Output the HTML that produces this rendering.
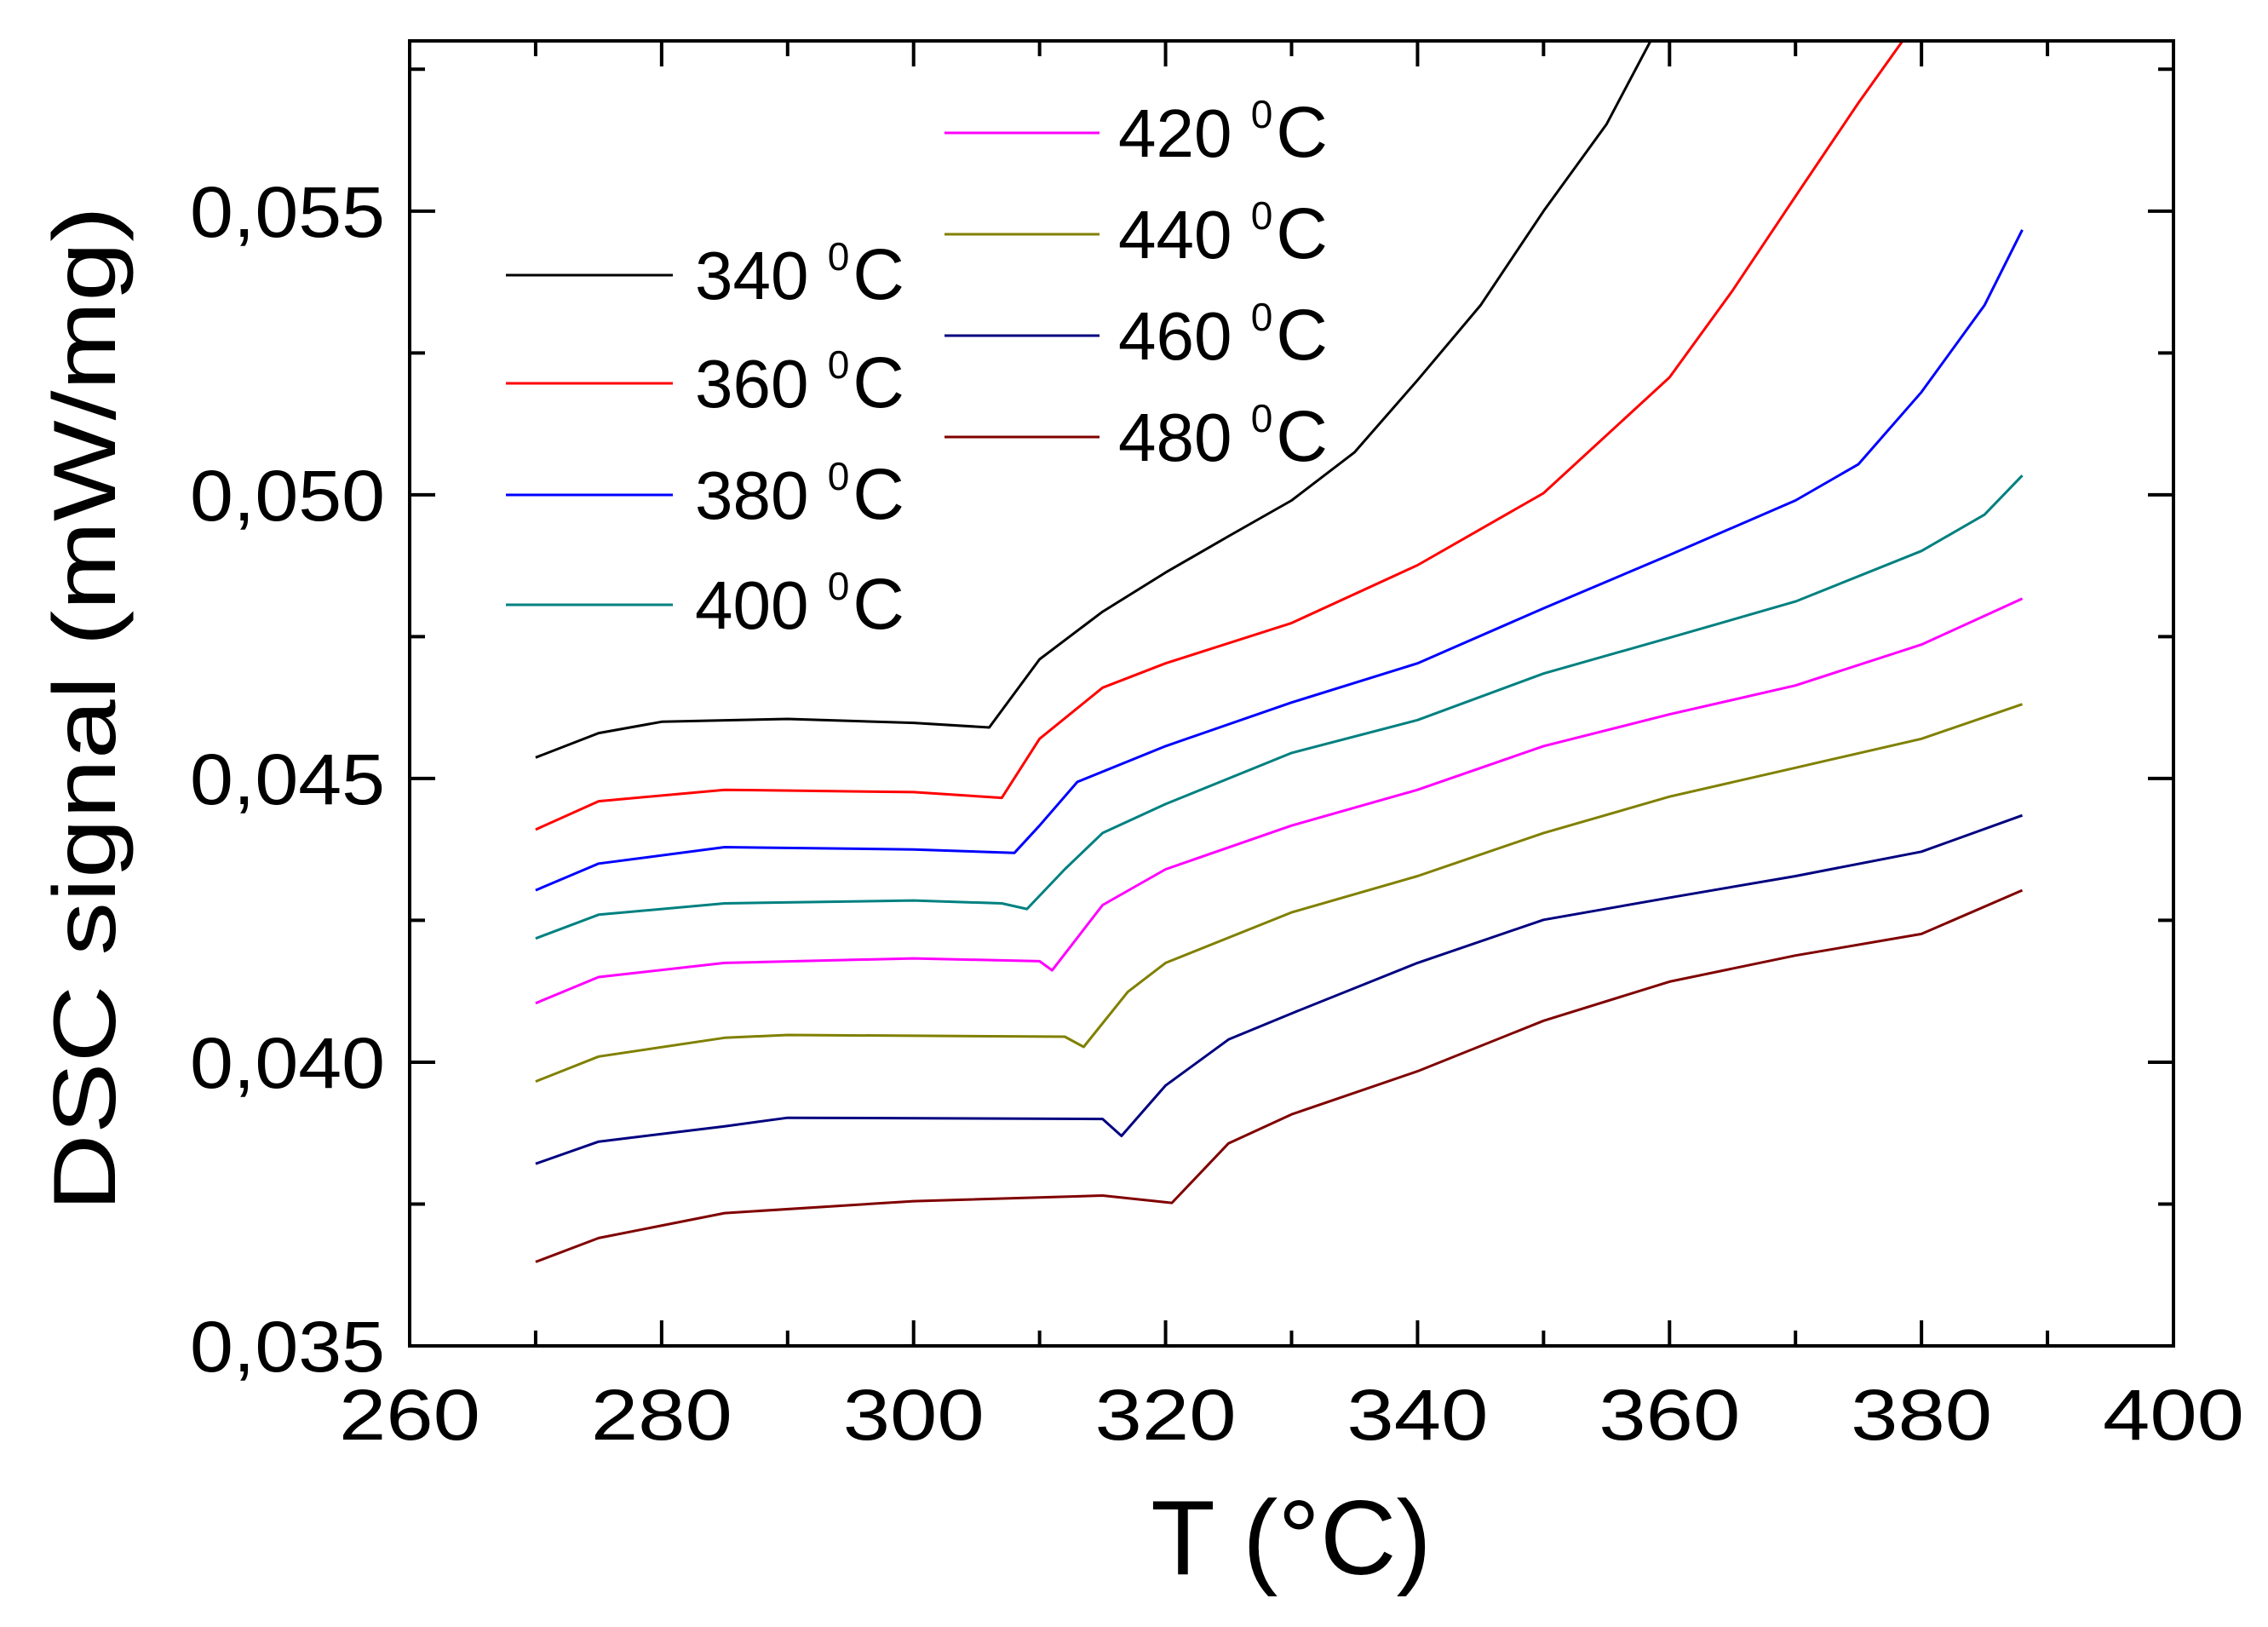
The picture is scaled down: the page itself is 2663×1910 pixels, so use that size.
<!DOCTYPE html>
<html><head><meta charset="utf-8"><style>
html,body{margin:0;padding:0;background:#fff}
svg{display:block}
text{font-family:"Liberation Sans",Arial,sans-serif;fill:#000}
</style></head><body>
<svg id="chart" width="2663" height="1910" viewBox="0 0 2663 1910" xmlns="http://www.w3.org/2000/svg">
<g id="grid"></g>
<g id="series"></g>
<g id="axes"></g>
<g id="legend"></g>
</svg>
<script>
const xTicks=[260,280,300,320,340,360,380,400];
const yTicks=[0.035,0.040,0.045,0.050,0.055];
const yTickLabels=["0,035","0,040","0,045","0,050","0,055"];
const seriesNames=["340 °C","360 °C","380 °C","400 °C","420 °C","440 °C","460 °C","480 °C"];
const seriesColors=["#000000","#ff0000","#0000ff","#008080","#ff00ff","#808000","#000080","#800000"];
const t340=[270,275,280,290,300,306,310,315,320,325,330,335,340,345,350,355,358.5];
const v340=[0.04537,0.0458,0.0460,0.04605,0.04598,0.0459,0.0471,0.04794,0.04863,0.04927,0.0499,0.05075,0.05202,0.05334,0.055,0.05653,0.058];
const t360=[270,275,285,300,307,310,315,320,330,340,350,360,365,370,375,378.5];
const v360=[0.0441,0.0446,0.0448,0.04476,0.04466,0.0457,0.0466,0.04703,0.04774,0.04876,0.05003,0.05207,0.0536,0.05526,0.05691,0.058];
const t380=[270,275,285,300,308,310,313,320,330,340,350,360,370,375,380,385,388];
const v380=[0.04303,0.0435,0.04379,0.04375,0.04369,0.04417,0.04494,0.04557,0.04634,0.04703,0.048,0.04894,0.0499,0.05054,0.05181,0.05334,0.05467];
const t400=[270,275,285,300,307,309,312,315,320,330,340,350,360,370,380,385,388];
const v400=[0.04218,0.0426,0.0428,0.04285,0.0428,0.0427,0.0434,0.04404,0.04455,0.04545,0.04603,0.04685,0.04748,0.04812,0.04901,0.04965,0.05034];
const t420=[270,275,285,300,310,311,315,320,330,340,350,360,370,380,388];
const v420=[0.04104,0.0415,0.04175,0.04183,0.04178,0.04162,0.04277,0.0434,0.04417,0.0448,0.04557,0.04613,0.04664,0.04736,0.04817];
const t440=[270,275,285,290,312,313.5,317,320,330,340,350,360,370,380,388];
const v440=[0.03966,0.0401,0.04043,0.04048,0.04045,0.04027,0.04124,0.04175,0.04264,0.04328,0.04404,0.04468,0.04519,0.0457,0.04631];
const t460=[270,275,285,290,315,316.5,320,325,330,340,350,360,370,380,388];
const v460=[0.03821,0.0386,0.03887,0.03902,0.039,0.0387,0.03959,0.0404,0.04086,0.04175,0.04251,0.0429,0.04328,0.04371,0.04435];
const t480=[270,275,285,300,315,320.5,325,330,340,350,360,370,380,388];
const v480=[0.03648,0.0369,0.03734,0.03755,0.03765,0.03752,0.03857,0.03908,0.03984,0.04073,0.04142,0.04188,0.04226,0.04303];
const seriesT=[t340,t360,t380,t400,t420,t440,t460,t480];
const seriesV=[v340,v360,v380,v400,v420,v440,v460,v480];

const L=481,R=2552,T=48,B=1580,X0=260,X1=400,Y0=0.035,Y1=0.058;
const NS="http://www.w3.org/2000/svg";
function sx(v){return L+(v-X0)/(X1-X0)*(R-L);}
function sy(v){return B-(v-Y0)/(Y1-Y0)*(B-T);}
function mk(tag,attrs,parent){const e=document.createElementNS(NS,tag);for(const k in attrs)e.setAttribute(k,attrs[k]);parent.appendChild(e);return e;}
const axes=document.getElementById('axes'),ser=document.getElementById('series'),leg=document.getElementById('legend');

seriesT.forEach((ts,i)=>{
  const d=ts.map((t,j)=>(j?'L':'M')+sx(t).toFixed(1)+','+sy(seriesV[i][j]).toFixed(1)).join(' ');
  const p=mk('path',{d:d,fill:'none',stroke:seriesColors[i],'stroke-width':3,'stroke-linejoin':'round'},ser);
  
  
});

const frame=mk('rect',{x:L,y:T,width:R-L,height:B-T,fill:'none',stroke:'#000','stroke-width':4},axes);



for(let v=260;v<=400;v+=10){
  const x=sx(v),len=(v%20===0)?30:18;
  mk('line',{x1:x,y1:B,x2:x,y2:B-len,stroke:'#000','stroke-width':4},axes);
  mk('line',{x1:x,y1:T,x2:x,y2:T+len,stroke:'#000','stroke-width':4},axes);
}
for(let k=0;k<=9;k++){
  const v=0.035+k*0.0025,y=sy(v),len=(k%2===0)?30:18;
  mk('line',{x1:L,y1:y,x2:L+len,y2:y,stroke:'#000','stroke-width':4},axes);
  mk('line',{x1:R,y1:y,x2:R-len,y2:y,stroke:'#000','stroke-width':4},axes);
}
xTicks.forEach(v=>{
  const t=mk('text',{x:sx(v),y:1690,'font-size':84,'text-anchor':'middle',textLength:166,lengthAdjust:'spacingAndGlyphs'},axes);
  t.textContent=String(v);
  
  
});
yTicks.forEach((v,i)=>{
  const t=mk('text',{x:452,y:sy(v)+30,'font-size':84,'text-anchor':'end',textLength:229,lengthAdjust:'spacingAndGlyphs'},axes);
  t.textContent=yTickLabels[i];
  
  
});
const xt=mk('text',{x:1516,y:1848,'font-size':124,'text-anchor':'middle'},axes);
xt.textContent='T (°C)';


const yt=mk('text',{x:0,y:0,'font-size':104,'text-anchor':'middle',transform:'translate(135,832) rotate(-90)',textLength:1180,lengthAdjust:'spacingAndGlyphs'},axes);
yt.textContent='DSC signal (mW/mg)';



const legX=[594,1109],legLen=[196,182],legTxt=[816,1313],legY=[[323,450,581,710],[156,275,394,513]];
seriesNames.forEach((n,i)=>{
  const c=i<4?0:1,r=i%4,y=legY[c][r];
  const g=mk('g',{},leg);
  
  
  mk('line',{x1:legX[c],y1:y,x2:legX[c]+legLen[c],y2:y,stroke:seriesColors[i],'stroke-width':3},g);
  const t=mk('text',{x:legTxt[c],y:y+28,'font-size':80},g);
  const num=n.slice(0,3);
  t.appendChild(document.createTextNode(num+'  '));
  const sup=mk('tspan',{'font-size':46,dy:-34},t);sup.textContent='0';
  const cc=mk('tspan',{dy:34,dx:4,'font-size':84},t);cc.textContent='C';
});
</script>
</body></html>
